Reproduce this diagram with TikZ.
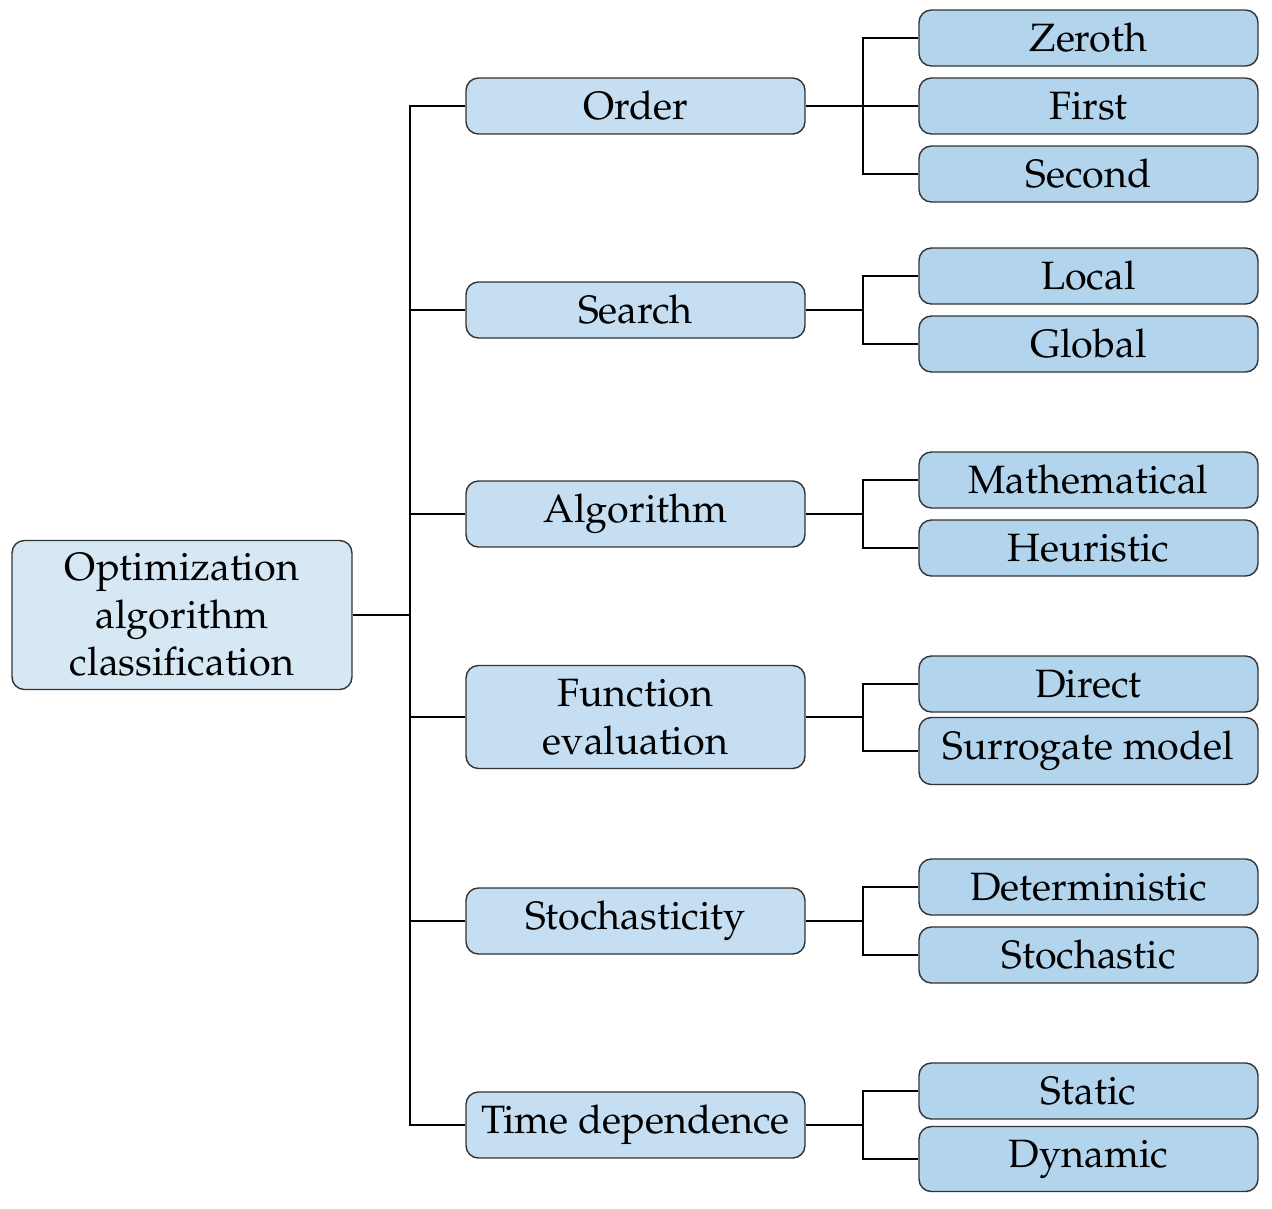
\documentclass[tikz,border=0pt]{standalone}
\usepackage[T1]{fontenc}
\usepackage{mathpazo}
\begin{document}
\begin{tikzpicture}[x=0.02cm,y=-0.02cm,
  box/.style={draw=black!80, line width=0.8pt, rounded corners=7pt, minimum width=6.78cm,
    minimum height=1.12cm, inner sep=2pt, align=center,
    font=\fontsize{22.5}{27}\selectfont},
  rootbox/.style={box, fill=rootfill, minimum width=6.8cm, minimum height=2.98cm},
  midbox/.style={box, fill=midfill},
  leafbox/.style={box, fill=leaffill},
  tall/.style={minimum height=1.32cm},
  conn/.style={line width=1.2pt, black}
]
\definecolor{rootfill}{HTML}{D7E8F5}
\definecolor{midfill}{HTML}{C6DEF1}
\definecolor{leaffill}{HTML}{B3D4ED}
\useasboundingbox (0,0) rectangle (1272,1208);

\node[rootbox] (root) at (182,615) {Optimization\\algorithm\\classification};

\node[midbox] (ord) at (635.5,106) {Order};
\node[midbox] (sea) at (635.5,310) {Search};
\node[midbox,tall] (alg) at (635.5,514) {Algorithm};
\node[midbox,minimum height=2.06cm] (fev) at (635.5,717) {Function\\evaluation};
\node[midbox,tall] (sto) at (635.5,921) {Stochasticity};
\node[midbox,tall] (tim) at (635.5,1125) {Time dependence};

\node[leafbox] (zer) at (1088.5,38) {Zeroth};
\node[leafbox] (fir) at (1088.5,106) {First};
\node[leafbox] (sec) at (1088.5,174) {Second};
\node[leafbox] (loc) at (1088.5,276) {Local};
\node[leafbox] (glo) at (1088.5,344) {Global};
\node[leafbox] (mat) at (1088.5,480) {Mathematical};
\node[leafbox] (heu) at (1088.5,548) {Heuristic};
\node[leafbox] (dir) at (1088.5,684) {Direct};
\node[leafbox,minimum height=1.34cm] (sur) at (1088.5,751) {Surrogate model};
\node[leafbox] (det) at (1088.5,887) {Deterministic};
\node[leafbox] (sst) at (1088.5,955) {Stochastic};
\node[leafbox] (sta) at (1088.5,1091) {Static};
\node[leafbox,minimum height=1.30cm] (dyn) at (1088.5,1159) {Dynamic};

% trunk
\coordinate (t) at (410,615);
\draw[conn] (root.east) -- (t);
\draw[conn] (ord.west) -| (t) |- (tim.west);
\foreach \m in {sea,alg,fev,sto} \draw[conn] (\m.west) -- (\m.west -| t);

% leaf buses
\foreach \m/\a/\b in {ord/zer/sec, sea/loc/glo, alg/mat/heu, fev/dir/sur, sto/det/sst, tim/sta/dyn}{
  \coordinate (bus-\m) at (863,0);
  \draw[conn] (\a.west) -- (\a.west -| bus-\m) -- (\b.west -| bus-\m) -- (\b.west);
  \draw[conn] (\m.east) -- (\m.east -| bus-\m);
}
\draw[conn] (fir.west) -- (fir.west -| bus-ord);
\end{tikzpicture}
\end{document}
